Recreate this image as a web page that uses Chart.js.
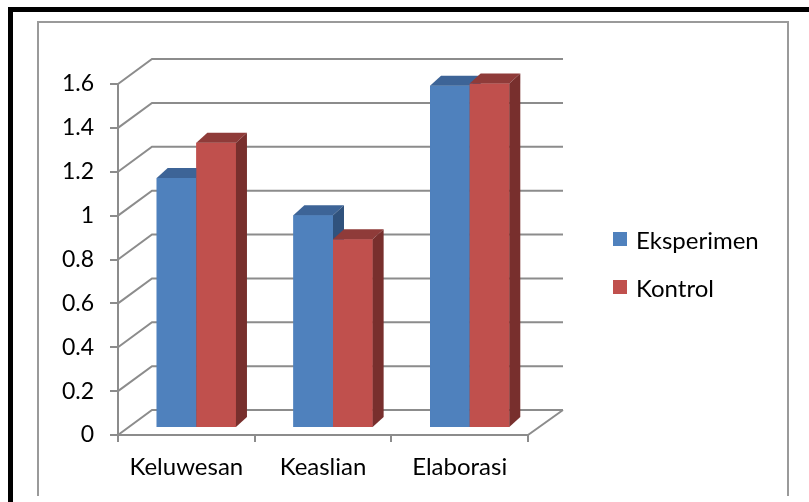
<!DOCTYPE html>
<html lang="id">
<head>
    <meta charset="UTF-8">
    <title>Eksperimen vs Kontrol</title>
    <script src="https://cdn.jsdelivr.net/npm/chart.js"></script>
    <style>
        body { margin: 0; background: #fff; font-family: 'Lato', sans-serif; }
        #wrap { position: relative; width: 809px; height: 502px; }
        #legend { position: absolute; left: 613px; top: 224px; }
        .item { display: flex; align-items: center; height: 30px; margin-bottom: 18px; font-size: 24px; color: #000; }
        .box { width: 14px; height: 14px; margin-right: 9px; }
    </style>
</head>
<body>
<div id="wrap">
    <canvas id="chart" width="809" height="502"></canvas>
    <div id="legend"></div>
</div>
<script>
// data
const categories = ['Keluwesan', 'Keaslian', 'Elaborasi'];
const eksperimen = [1.14, 0.97, 1.56];
const kontrol = [1.30, 0.86, 1.57];
const yTickValues = [0, 0.2, 0.4, 0.6, 0.8, 1, 1.2, 1.4, 1.6];
const yTickLabels = ['0', '0.2', '0.4', '0.6', '0.8', '1', '1.2', '1.4', '1.6'];

const seriesNames = ['Eksperimen', 'Kontrol'];
const frontColors = ['#4f81bd', '#c0504d'];
const topColors = ['#3d6497', '#8f3b39'];
const sideColors = ['#30527d', '#782f2d'];
const lineGray = '#8c8c8c';

// 3D look
const wallDX = 34, wallDY = 25;   // depth of the floor / side wall
const shiftX = 10, shiftY = -7;    // bars sit in the middle of the depth
const barDX = 11, barDY = 10;      // depth of each bar

const threeD = {
    id: 'threeD',
    beforeDraw(chart) {
        const ctx = chart.ctx;
        ctx.save();
        ctx.fillStyle = '#fff';
        ctx.fillRect(0, 0, chart.width, chart.height);
        // black outer frame (top + left)
        ctx.fillStyle = '#000';
        ctx.fillRect(8, 7, chart.width - 8, 5);
        ctx.fillRect(8, 7, 5, chart.height - 7);
        // gray chart border
        ctx.strokeStyle = '#9a9a9a';
        ctx.lineWidth = 2;
        ctx.beginPath();
        ctx.moveTo(38, 496);
        ctx.lineTo(38, 22);
        ctx.lineTo(788, 22);
        ctx.lineTo(788, 496);
        ctx.stroke();
        ctx.restore();
    },
    beforeDatasetsDraw(chart) {
        const ctx = chart.ctx;
        const y = chart.scales.y, x = chart.scales.x;
        const left = x.left, right = x.right, bottom = y.bottom;
        ctx.save();
        ctx.strokeStyle = lineGray;
        ctx.lineWidth = 2;
        ctx.beginPath();
        yTickValues.forEach(v => {
            const py = y.getPixelForValue(v);
            ctx.moveTo(left, py);
            ctx.lineTo(left + wallDX, py - wallDY);
            ctx.lineTo(right + wallDX + 1, py - wallDY);
        });
        ctx.moveTo(right, bottom);
        ctx.lineTo(right + wallDX + 1, bottom - wallDY);
        ctx.stroke();
        ctx.restore();

        ctx.save();
        ctx.translate(shiftX, shiftY);
    },
    afterDatasetsDraw(chart) {
        const ctx = chart.ctx;
        const metas = chart.data.datasets.map((d, i) => chart.getDatasetMeta(i));
        categories.forEach((c, i) => {
            metas.forEach((meta, d) => {
                const bar = meta.data[i];
                const p = bar.getProps(['x', 'y', 'base', 'width'], true);
                const l = p.x - p.width / 2, r = p.x + p.width / 2;
                // front
                ctx.fillStyle = frontColors[d];
                ctx.fillRect(l, p.y, p.width, p.base - p.y);
                // top
                ctx.fillStyle = topColors[d];
                ctx.beginPath();
                ctx.moveTo(l, p.y);
                ctx.lineTo(l + barDX, p.y - barDY);
                ctx.lineTo(r + barDX, p.y - barDY);
                ctx.lineTo(r, p.y);
                ctx.closePath();
                ctx.fill();
                // side
                ctx.fillStyle = sideColors[d];
                ctx.beginPath();
                ctx.moveTo(r, p.y);
                ctx.lineTo(r + barDX, p.y - barDY);
                ctx.lineTo(r + barDX, p.base - barDY);
                ctx.lineTo(r, p.base);
                ctx.closePath();
                ctx.fill();
            });
        });
        ctx.restore();
    }
};

const chart = new Chart(document.getElementById('chart'), {
    type: 'bar',
    data: {
        labels: categories,
        datasets: [
            { label: seriesNames[0], data: eksperimen, backgroundColor: frontColors[0], clip: false },
            { label: seriesNames[1], data: kontrol, backgroundColor: frontColors[1], clip: false }
        ]
    },
    options: {
        responsive: false,
        animation: false,
        categoryPercentage: 0.58,
        barPercentage: 1.0,
        layout: { padding: { top: 84, right: 281, bottom: 0, left: 0 } },
        plugins: {
            legend: { display: false },
            tooltip: { enabled: false }
        },
        scales: {
            x: {
                afterFit(s) { s.height = 67; },
                border: { display: true, color: lineGray, width: 2 },
                grid: { offset: true, drawOnChartArea: false, drawTicks: true, tickLength: 7, color: lineGray, lineWidth: 2 },
                ticks: { color: '#000', font: { family: 'Lato', size: 24 }, padding: 11, maxRotation: 0 }
            },
            y: {
                min: 0,
                max: 1.6,
                afterFit(s) { s.width = 118; },
                afterBuildTicks(s) { s.ticks = yTickValues.map(v => ({ value: v })); },
                border: { display: true, color: lineGray, width: 2 },
                grid: { drawOnChartArea: false, drawTicks: true, tickLength: 8, color: lineGray, lineWidth: 2 },
                ticks: {
                    color: '#000',
                    font: { family: 'Lato', size: 23 },
                    padding: 16,
                    callback: (v, i) => yTickLabels[i]
                }
            }
        }
    },
    plugins: [threeD]
});

// legend built from the datasets
const legend = document.getElementById('legend');
chart.data.datasets.forEach(ds => {
    const item = document.createElement('div');
    item.className = 'item';
    const box = document.createElement('span');
    box.className = 'box';
    box.style.background = ds.backgroundColor;
    const txt = document.createElement('span');
    txt.textContent = ds.label;
    item.appendChild(box);
    item.appendChild(txt);
    legend.appendChild(item);
});
</script>
</body>
</html>
